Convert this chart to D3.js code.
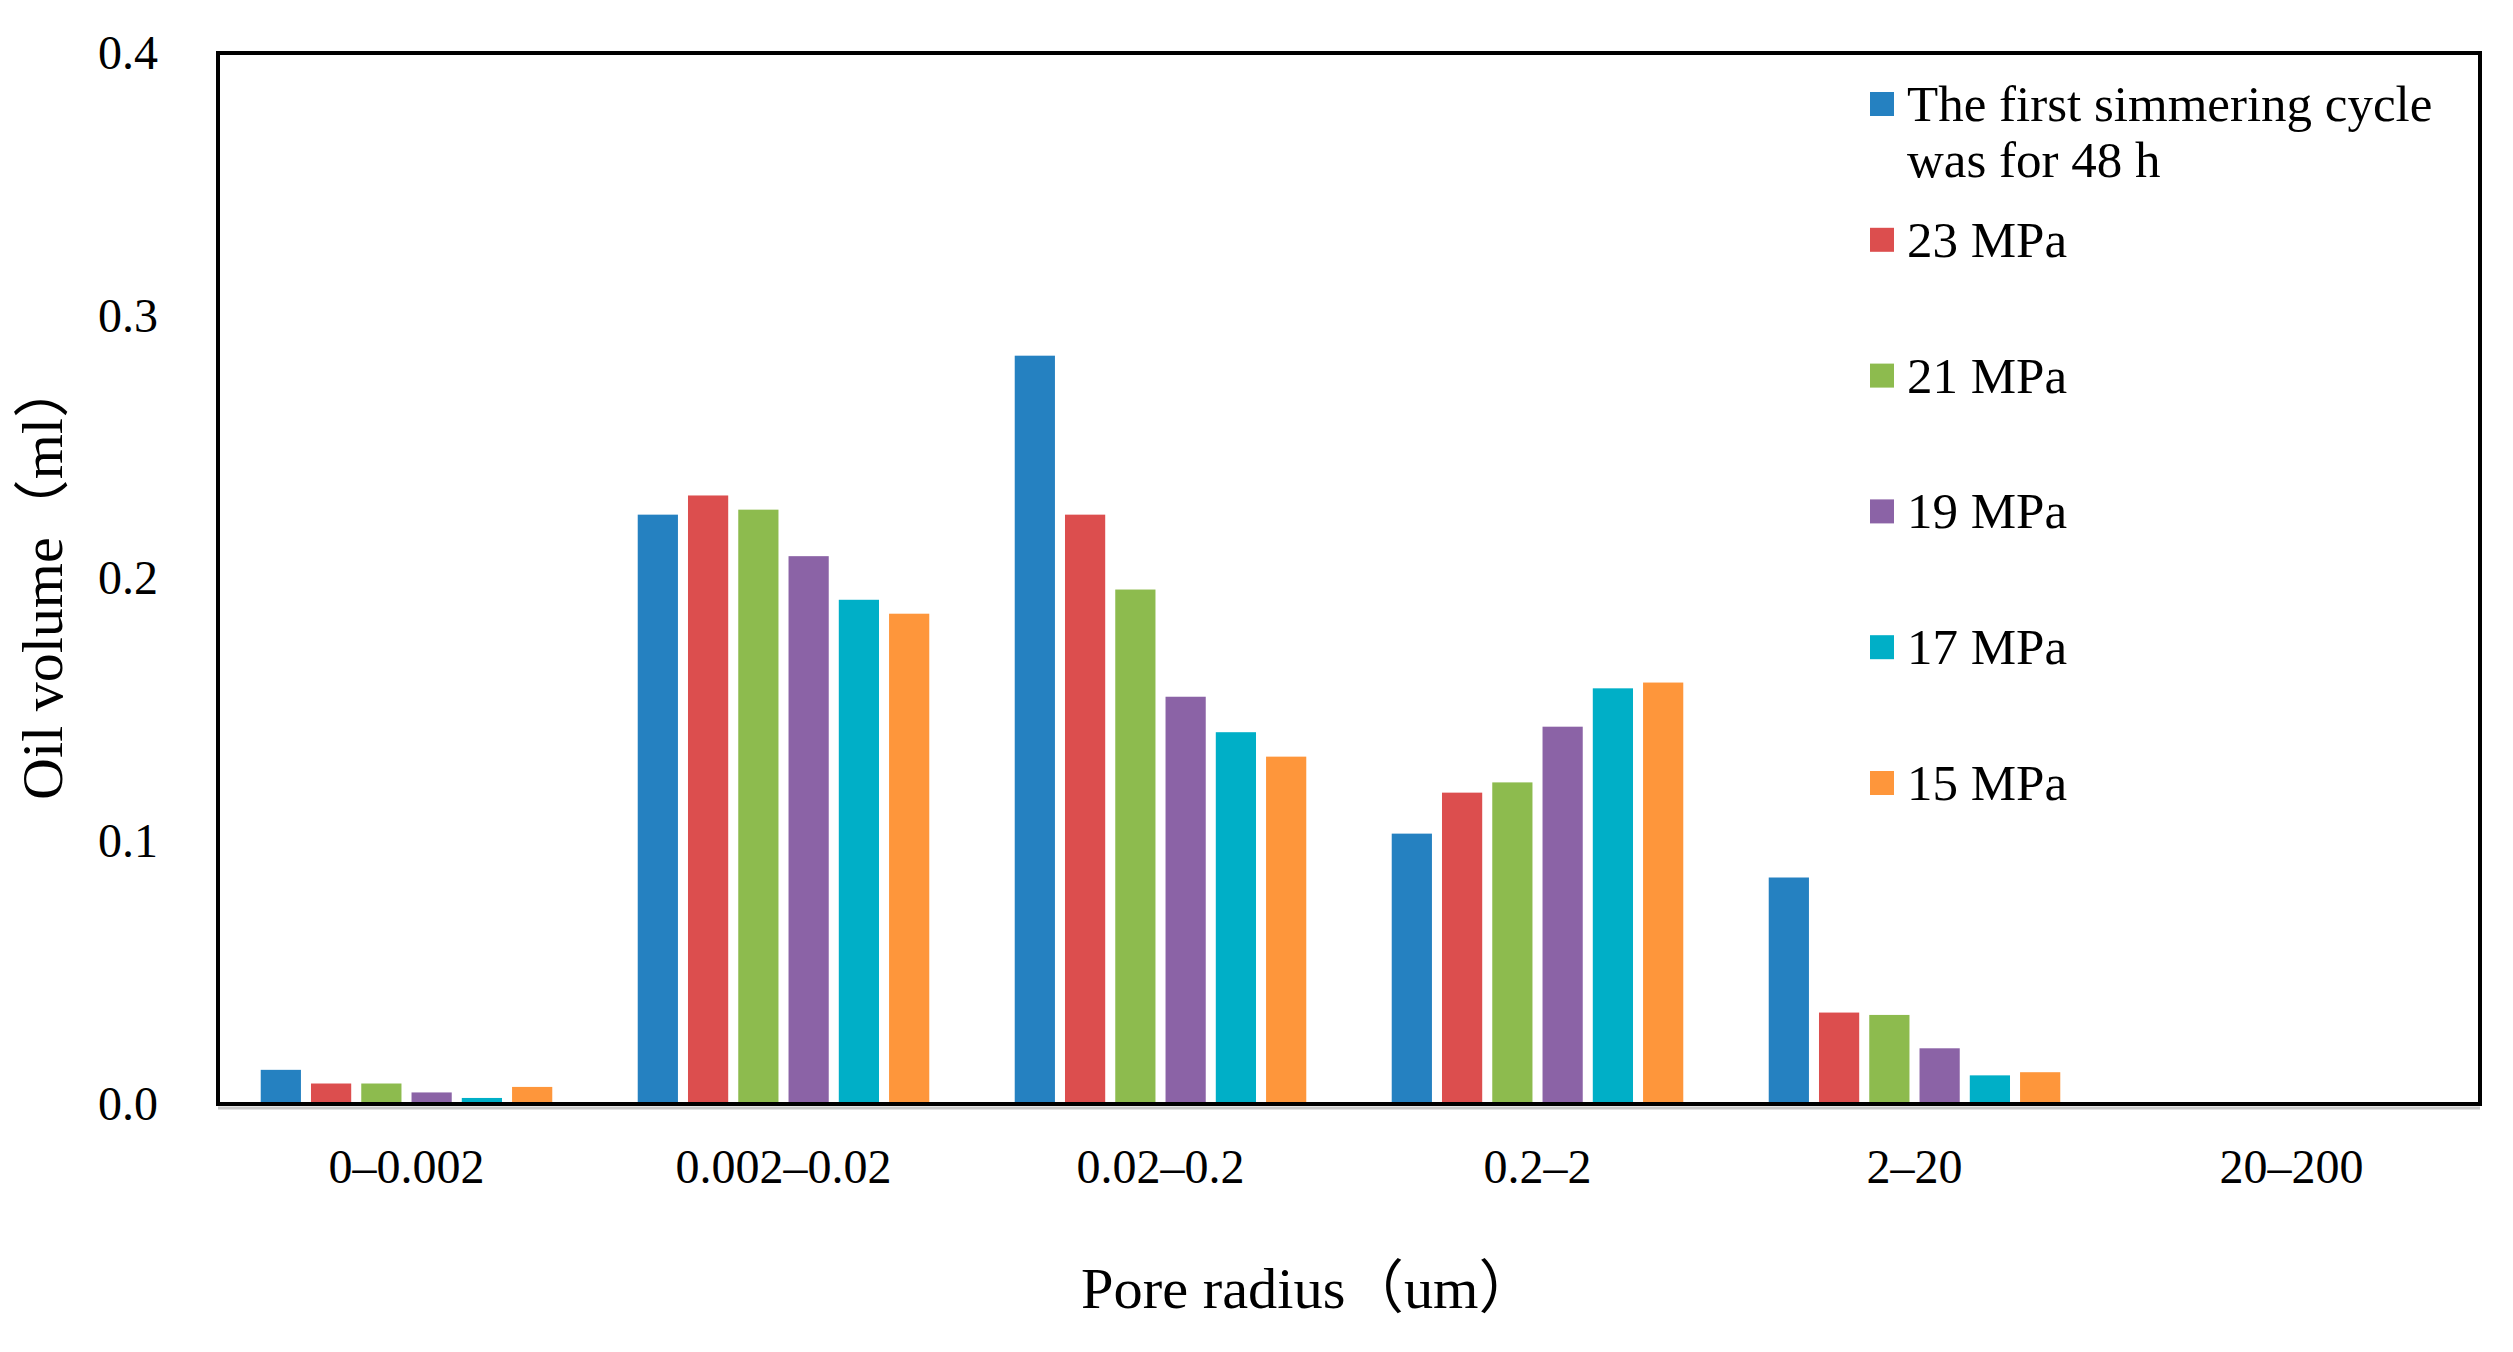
<!DOCTYPE html>
<html>
<head>
<meta charset="utf-8">
<script src="https://cdn.jsdelivr.net/npm/d3@7/dist/d3.min.js"></script>
<style>
  html, body { margin: 0; padding: 0; background: #ffffff; }
  svg { display: block; }
  text { font-family: "Liberation Serif", "Times New Roman", "Noto Sans CJK SC", serif; fill: #000; }
</style>
</head>
<body>
<svg id="chart" width="2513" height="1352"></svg>
<script>
// ---- data ----
const categories = ["0–0.002", "0.002–0.02", "0.02–0.2", "0.2–2", "2–20", "20–200"];
const seriesNames = ["The first simmering cycle was for 48 h", "23 MPa", "21 MPa", "19 MPa", "17 MPa", "15 MPa"];
const legendLines = [["The first simmering cycle", "was for 48 h"], ["23 MPa"], ["21 MPa"], ["19 MPa"], ["17 MPa"], ["15 MPa"]];
const seriesColors = ["#2581c1", "#dc4e4e", "#8dbb4e", "#8b63a6", "#00afc7", "#fe963b"];
const firstCycle = [0.0130, 0.2243, 0.2848, 0.1029, 0.0862, 0];
const mpa23      = [0.0078, 0.2316, 0.2243, 0.1185, 0.0348, 0];
const mpa21      = [0.0078, 0.2262, 0.1958, 0.1224, 0.0339, 0];
const mpa19      = [0.0044, 0.2085, 0.1550, 0.1436, 0.0212, 0];
const mpa17      = [0.0023, 0.1919, 0.1415, 0.1582, 0.0109, 0];
const mpa15      = [0.0065, 0.1866, 0.1322, 0.1604, 0.0121, 0];
const seriesValues = [firstCycle, mpa23, mpa21, mpa19, mpa17, mpa15];
const yTicks = [0, 0.1, 0.2, 0.3, 0.4];
const yTitle = "Oil volume（ml）";
const xTitle = "Pore radius（um）";

// ---- layout ----
const svg = d3.select("#chart");
const pLeft = 218, pRight = 2480, pTop = 53, pBottom = 1104;

const x0 = d3.scaleBand().domain(categories).range([pLeft, pRight]).paddingInner(0.2).paddingOuter(0.1);
const x1 = d3.scaleBand().domain(d3.range(seriesNames.length)).range([0, x0.bandwidth()]).paddingInner(0.2).paddingOuter(0.1);
const y = d3.scaleLinear().domain([0, 0.4]).range([pBottom, pTop]);

svg.append("rect").attr("width", 2513).attr("height", 1352).attr("fill", "#fff");

// bars
const groups = svg.append("g").selectAll("g").data(categories).join("g")
  .attr("transform", d => `translate(${x0(d)},0)`);
groups.selectAll("rect")
  .data((d, ci) => seriesValues.map((vals, si) => ({ si, v: vals[ci] })))
  .join("rect")
  .attr("x", d => x1(d.si))
  .attr("width", x1.bandwidth())
  .attr("y", d => y(d.v))
  .attr("height", d => Math.max(0, y(0) - y(d.v)))
  .attr("fill", d => seriesColors[d.si]);

// frame
svg.append("line").attr("x1", pLeft).attr("x2", pRight).attr("y1", pBottom + 4).attr("y2", pBottom + 4)
  .attr("stroke", "#c8c8c8").attr("stroke-width", 3);
svg.append("rect").attr("x", pLeft).attr("y", pTop).attr("width", pRight - pLeft).attr("height", pBottom - pTop)
  .attr("fill", "none").attr("stroke", "#000").attr("stroke-width", 4);

// y axis (labels only)
const yAxis = d3.axisLeft(y).tickValues(yTicks).tickFormat(d3.format(".1f")).tickSize(0).tickPadding(60);
const gy = svg.append("g").attr("transform", `translate(${pLeft},0)`).call(yAxis);
gy.select(".domain").remove();
gy.selectAll("text").attr("font-size", 48).attr("font-family", null).attr("fill", "#000");

// x axis (labels only)
const xAxis = d3.axisBottom(x0).tickSize(0).tickPadding(0);
const gx = svg.append("g").attr("transform", `translate(0,${pBottom})`).call(xAxis);
gx.select(".domain").remove();
gx.selectAll("text").attr("font-size", 48).attr("font-family", null).attr("fill", "#000")
  .attr("dy", null).attr("y", 79);

// titles
svg.append("text").attr("x", 1309).attr("y", 1308).attr("text-anchor", "middle")
  .attr("font-size", 58).attr("textLength", 456).attr("lengthAdjust", "spacingAndGlyphs").text(xTitle);
svg.append("text").attr("transform", "translate(62,580) rotate(-90)").attr("text-anchor", "middle")
  .attr("font-size", 56).attr("textLength", 440).attr("lengthAdjust", "spacingAndGlyphs").text(yTitle);

// legend
const legY = d3.scalePoint().domain(d3.range(seriesNames.length)).range([104, 783]);
const leg = svg.append("g").selectAll("g").data(seriesNames).join("g")
  .attr("transform", (d, i) => `translate(1870,${legY(i)})`);
leg.append("rect").attr("x", 0).attr("y", -12).attr("width", 24).attr("height", 24)
  .attr("fill", (d, i) => seriesColors[i]);
leg.each(function (d, i) {
  const t = d3.select(this).append("text").attr("x", 37).attr("y", 17).attr("font-size", 51);
  legendLines[i].forEach((line, li) => {
    t.append("tspan").attr("x", 37).attr("dy", li === 0 ? 0 : 56).text(line);
  });
});
</script>
</body>
</html>
